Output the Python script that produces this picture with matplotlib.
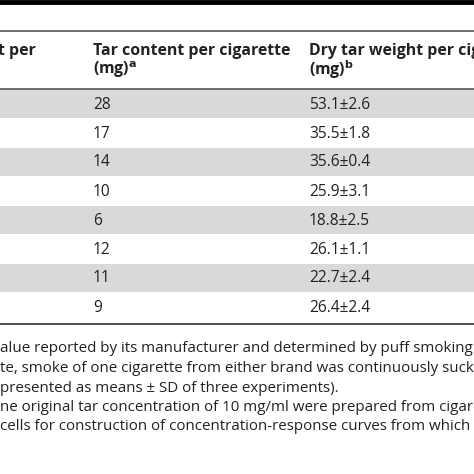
import matplotlib
matplotlib.use("Agg")
import matplotlib.pyplot as plt

tar_content = [28, 17, 14, 10, 6, 12, 11, 9]
dry_mean = [53.1, 35.5, 35.6, 25.9, 18.8, 26.1, 22.7, 26.4]
dry_sd = [2.6, 1.8, 0.4, 3.1, 2.5, 1.1, 2.4, 2.4]
header_left = "t per"
header_tar = "Tar content per cigarette"
header_dry = "Dry tar weight per cigarette"
footnotes = [
    "alue reported by its manufacturer and determined by puff smoking machine",
    "te, smoke of one cigarette from either brand was continuously sucked into",
    "presented as means \u00b1 SD of three experiments).",
    "ne original tar concentration of 10 mg/ml were prepared from cigarette",
    "cells for construction of concentration-response curves from which the",
]

plt.rcParams['font.family'] = ['Open Sans', 'DejaVu Sans']
fig = plt.figure(figsize=(4.74, 4.74), dpi=100)
ax = fig.add_axes([0, 0, 1, 1])
ax.set_xlim(0, 474)
ax.set_ylim(474, 0)
ax.axis('off')

ax.axhline(1.5, color='black', lw=3.5)
ax.axhline(31, color='#555555', lw=1.2)
ax.axhline(89, color='#555555', lw=1.2)
ax.axhline(324, color='#333333', lw=1.2)

hfs = 11.4
fs = 11.2
ax.text(-2, 51, header_left, fontsize=hfs, fontweight='bold', va='center', color='#222222')
ax.text(93, 51, header_tar, fontsize=hfs, fontweight='bold', va='center', color='#222222')
ax.text(93, 70, r"(mg)$^{\mathbf{a}}$", fontsize=hfs, fontweight='bold', va='center', color='#222222')
ax.text(309, 51, header_dry, fontsize=hfs, fontweight='bold', va='center', color='#222222', clip_on=True)
ax.text(309, 70, r"(mg)$^{\mathbf{b}}$", fontsize=hfs, fontweight='bold', va='center', color='#222222')

top = 90
h = 29
for i, (t, m, s) in enumerate(zip(tar_content, dry_mean, dry_sd)):
    y0 = top + i * h
    if i % 2 == 0:
        ax.add_patch(plt.Rectangle((0, y0), 474, h - 1, color='#d9d9d9', lw=0))
    yc = y0 + h / 2
    ax.text(93, yc, str(t), fontsize=fs, va='center', color='#222222')
    ax.text(309, yc, f"{m:.1f}\u00b1{s:.1f}", fontsize=fs, va='center', color='#222222')

for j, line in enumerate(footnotes):
    ax.text(0, 349 + j * 19.5, line, fontsize=10.9, va='center', color='#222222', clip_on=True)

fig.savefig("out.png", dpi=100)
